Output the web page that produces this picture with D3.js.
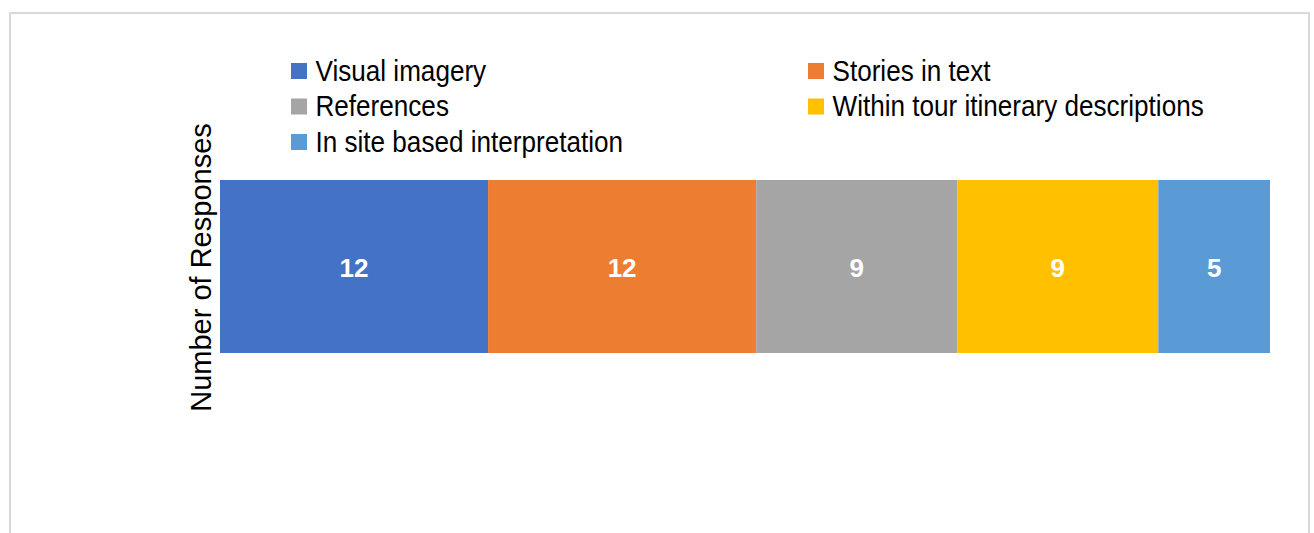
<!DOCTYPE html>
<html>
<head>
<meta charset="utf-8">
<script src="https://cdn.jsdelivr.net/npm/d3@7"></script>
<style>
  html, body { margin: 0; padding: 0; background: #fff; }
  svg { display: block; font-family: "Liberation Sans", Arial, sans-serif; }
</style>
</head>
<body>
<svg id="chart" width="1314" height="533"></svg>
<script>
const categories = ["Visual imagery", "Stories in text", "References", "Within tour itinerary descriptions", "In site based interpretation"];
const values = [12, 12, 9, 9, 5];
const colors = ["#4472C4", "#ED7D31", "#A5A5A5", "#FFC000", "#5B9BD5"];
const axisTitle = "Number of Responses";

const svg = d3.select("#chart");

// chart frame
svg.append("rect")
  .attr("x", 10).attr("y", 13)
  .attr("width", 1299).attr("height", 540)
  .attr("fill", "#fff")
  .attr("stroke", "#d9d9d9")
  .attr("stroke-width", 2);

const total = d3.sum(values);
const x = d3.scaleLinear().domain([0, total]).range([220, 1270]);
const y = d3.scaleBand().domain(["all"]).range([180, 353]).padding(0);

const starts = values.map((v, i) => d3.sum(values.slice(0, i)));
const segs = values.map((v, i) => ({ cat: categories[i], v, s: starts[i], c: colors[i] }));

svg.append("g").selectAll("rect")
  .data(segs).join("rect")
  .attr("x", d => x(d.s))
  .attr("y", y("all"))
  .attr("width", d => x(d.s + d.v) - x(d.s))
  .attr("height", y.bandwidth())
  .attr("fill", d => d.c);

svg.append("g").selectAll("text")
  .data(segs).join("text")
  .attr("x", d => x(d.s + d.v / 2))
  .attr("y", y("all") + y.bandwidth() / 2 + 1)
  .attr("dy", "0.36em")
  .attr("text-anchor", "middle")
  .attr("fill", "#fff")
  .attr("font-weight", "bold")
  .attr("font-size", 26)
  .text(d => d.v);

// axis title
svg.append("text")
  .attr("transform", `translate(211, ${y("all") + y.bandwidth() / 2 + 1}) rotate(-90)`)
  .attr("text-anchor", "middle")
  .attr("font-size", 29)
  .attr("fill", "#000")
  .text(axisTitle);

// legend: row-major, two columns
const legendCols = [291, 808];
const legendRows = [63, 98.5, 134];
const lg = svg.append("g").selectAll("g")
  .data(categories).join("g")
  .attr("transform", (d, i) => `translate(${legendCols[i % 2]}, ${legendRows[Math.floor(i / 2)]})`);
lg.append("rect")
  .attr("width", 16).attr("height", 16)
  .attr("fill", (d, i) => colors[i]);
lg.append("text")
  .attr("transform", "translate(24.5, 17.5) scale(0.9, 1)")
  .attr("font-size", 29)
  .attr("fill", "#000")
  .text(d => d);
</script>
</body>
</html>
